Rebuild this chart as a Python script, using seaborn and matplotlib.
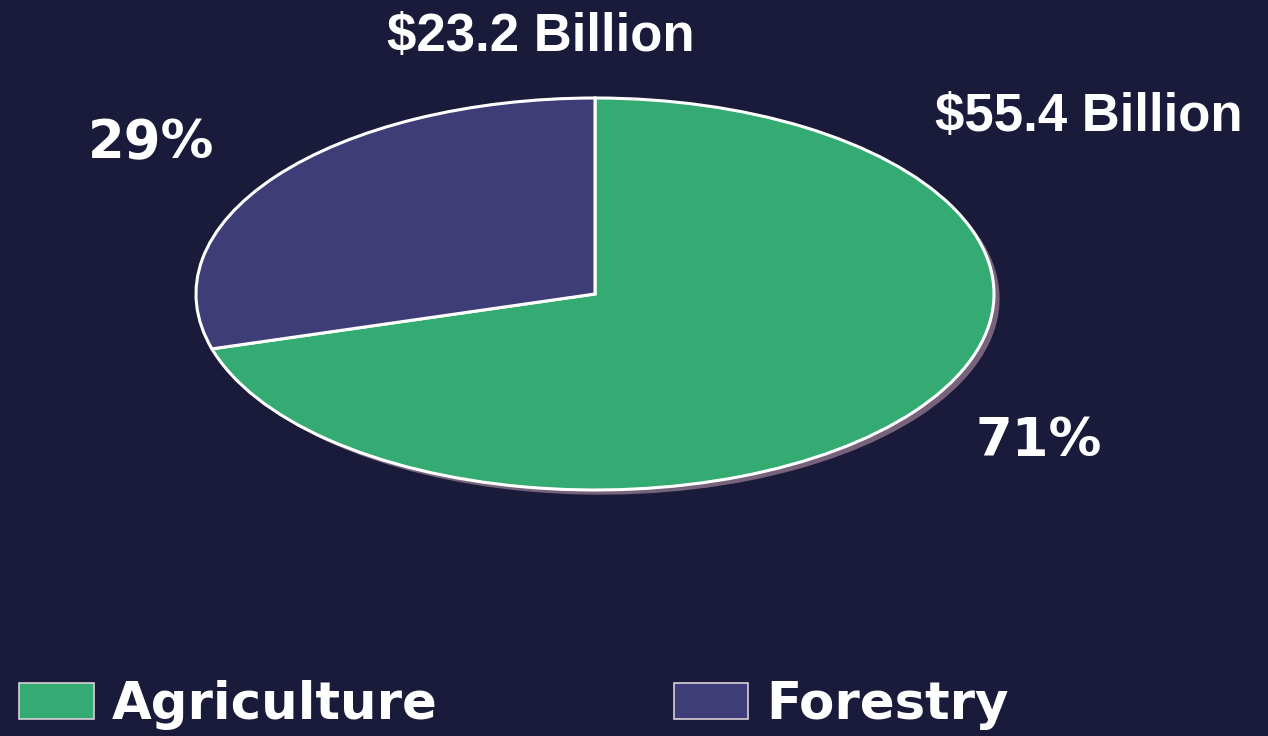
import matplotlib
matplotlib.use("Agg")
import matplotlib.pyplot as plt
import seaborn as sns

# data
sectors = ["Agriculture", "Forestry"]
values = [55.4, 23.2]          # billions of dollars
pct_labels = ["71%", "29%"]
money_labels = ["$55.4 Billion", "$23.2 Billion"]
colors = ["#33ab72", "#3f3d78"]

bg = "#1a1a3a"
sns.set_theme(style="dark", rc={"figure.facecolor": bg, "axes.facecolor": bg})
plt.rcParams['font.family'] = ['DejaVu Sans']

fig = plt.figure(figsize=(12.68, 7.36), dpi=100)
# axes box = bounding box of the ellipse (pixels 196..994 x 98..490)
ax = fig.add_axes([196 / 1268, (736 - 490) / 736, 798 / 1268, 392 / 736])
ax.set_facecolor("none")

# shadow pie, slightly offset
ax.pie(values, startangle=90, counterclock=False, colors=["#76627a"] * 2,
       center=(0.014, -0.024), radius=1.0,
       wedgeprops=dict(linewidth=0))
wedges, _ = ax.pie(values, startangle=90, counterclock=False, colors=colors,
                   wedgeprops=dict(edgecolor="white", linewidth=2.2))
ax.set_aspect("auto")
ax.set_xlim(-1.0, 1.0)
ax.set_ylim(-1.0, 1.0)
ax.axis("off")

def fx(px):
    return px / 1268

def fy(py):
    return 1 - py / 736

txt = dict(color="white", fontweight="bold", ha="center", va="center")
fig.text(fx(541), fy(37), money_labels[1], fontsize=38,
         family=["Liberation Sans", "DejaVu Sans"], **txt)
fig.text(fx(1089), fy(117), money_labels[0], fontsize=38,
         family=["Liberation Sans", "DejaVu Sans"], **txt)
fig.text(fx(151), fy(143), pct_labels[1], fontsize=38, **txt)
fig.text(fx(1039), fy(441), pct_labels[0], fontsize=38, **txt)

leg = fig.legend(wedges, sectors, loc="lower left", bbox_to_anchor=(fx(14), fy(735)),
                 ncol=2, frameon=False, fontsize=37, handlelength=1.45,
                 handleheight=0.7, handletextpad=0.35, columnspacing=4.6,
                 borderaxespad=0.0, borderpad=0.1)
for t in leg.get_texts():
    t.set_color("white")
    t.set_fontweight("bold")
for h in leg.legend_handles:
    h.set_edgecolor("#d8d0d8")
    h.set_linewidth(1.2)

fig.savefig("out.png", dpi=100, facecolor=bg)
